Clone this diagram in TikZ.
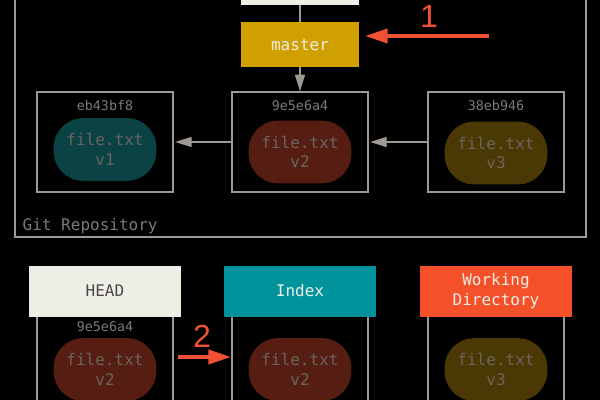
\documentclass[tikz,border=0pt]{standalone}
\usepackage{fontspec}
\setmonofont{DejaVu Sans Mono}
\newfontfamily\numfont{Liberation Sans}
\usetikzlibrary{arrows.meta, positioning}
\definecolor{cline}{HTML}{9E9993}
\definecolor{chash}{HTML}{7E7974}
\definecolor{cblobtext}{HTML}{6A645E}
\definecolor{cteal}{HTML}{0B4345}
\definecolor{cbrown}{HTML}{561E12}
\definecolor{colive}{HTML}{4A3905}
\definecolor{cgold}{HTML}{CFA000}
\definecolor{cpaper}{HTML}{EEEDE6}
\definecolor{cdark}{HTML}{4C4945}
\definecolor{cindex}{HTML}{00939C}
\definecolor{cwork}{HTML}{F4502A}
\definecolor{cred}{HTML}{F05133}
\tikzset{
  every picture/.style={font=\ttfamily},
  commit/.style={draw=cline, line width=1.1pt, minimum width=102pt, minimum height=75pt},
  blob/.style={fill=#1, rounded corners=22pt, minimum width=77pt, minimum height=47pt, text=cblobtext, align=center, inner sep=0pt, font=\ttfamily\fontsize{12}{14.5}\selectfont},
  hash/.style={text=chash, font=\ttfamily\fontsize{10}{12}\selectfont},
  ref/.style={fill=#1, minimum width=114pt, minimum height=38.25pt, align=center, text=cpaper, font=\ttfamily\fontsize{12}{15}\selectfont},
  arrow/.style={-{Triangle[length=12.5pt, width=7.5pt]}, draw=cline, line width=1.1pt},
  callout/.style={-{Triangle[length=17pt, width=10.5pt]}, draw=cred, line width=3pt},
  num/.style={text=cred, font=\numfont\fontsize{24}{24}\selectfont},
}
\begin{document}
\begin{tikzpicture}[x=0.75pt, y=-0.75pt]
  \fill[black] (0,0) rectangle (600,400);
  \useasboundingbox (0,0) rectangle (600,400);
  \clip (0,0) rectangle (600,400);
  % repository
  \draw[cline, line width=1.1pt] (15,-20) rectangle (586,237);
  \node[text=chash, anchor=west, font=\ttfamily\fontsize{12}{14}\selectfont] (repo) at (18,226) {Git Repository};
  \node[ref=cpaper, minimum width=88.5pt, minimum height=40pt] (head) at (300,-22) {};
  \node[ref=cgold, minimum width=88.5pt, minimum height=33.75pt] (master) at (300,44.5) {master};
  \draw[cline, line width=1.1pt] (head) -- (master);
  \node[commit] (c1) at (105,142) {};
  \node[commit] (c2) at (300,142) {};
  \node[commit] (c3) at (496,142) {};
  \node[hash] (h1) at (105,106) {eb43bf8};
  \node[hash] (h2) at (300,106) {9e5e6a4};
  \node[hash] (h3) at (496,106) {38eb946};
  \node[blob=cteal] (b1) at (105,149.5) {file.txt\\v1};
  \node[blob=cbrown] (b2) at (300,152) {file.txt\\v2};
  \node[blob=colive] (b3) at (496,153) {file.txt\\v3};
  \draw[arrow] (master) -- (c2);
  \draw[arrow, shorten >=1pt] (c2) -- (c1);
  \draw[arrow, shorten >=1pt] (c3) -- (c2);
  % step 1
  \coordinate (s1) at (489,36);
  \coordinate (e1) at (365,36);
  \draw[callout] (s1) -- (e1);
  \node[num] (n1) at (429,16) {1};
  % three trees
  \node[commit, anchor=north, minimum height=120pt] (t1) at (105,310) {};
  \node[commit, anchor=north, minimum height=120pt] (t2) at (300,310) {};
  \node[commit, anchor=north, minimum height=120pt] (t3) at (496,310) {};
  \node[ref=cpaper, text=cdark] (headref) at (105,291) {HEAD};
  \node[ref=cindex] (index) at (300,291) {Index};
  \node[ref=cwork] (wd) at (496,291) {Working\\Directory};
  \node[hash] (h4) at (105,327) {9e5e6a4};
  \node[blob=cbrown] (b4) at (105,369.5) {file.txt\\v2};
  \node[blob=cbrown] (b5) at (300,369.5) {file.txt\\v2};
  \node[blob=colive] (b6) at (496,369.5) {file.txt\\v3};
  % step 2
  \coordinate (s2) at (178,357);
  \coordinate (e2) at (231,357);
  \draw[callout] (s2) -- (e2);
  \node[num] (n2) at (202,336) {2};
\end{tikzpicture}
\end{document}
